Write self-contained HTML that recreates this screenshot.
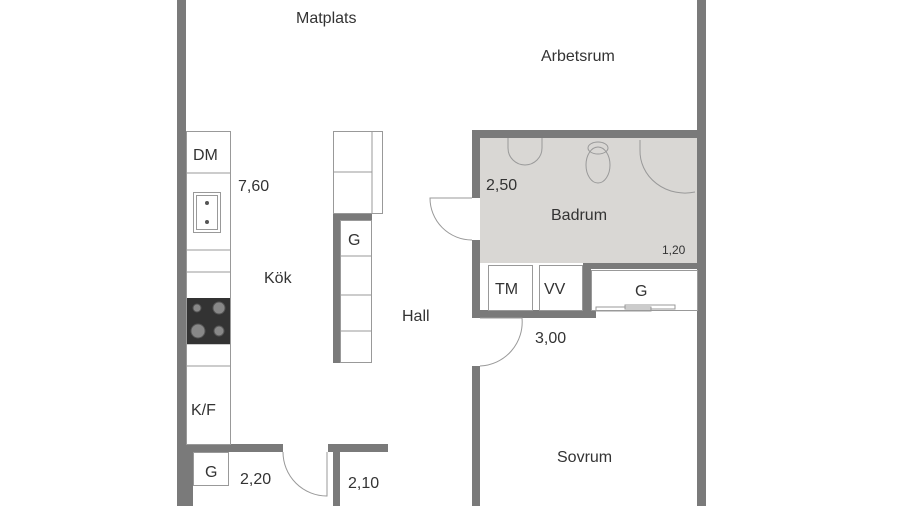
<!DOCTYPE html>
<html><head><style>body{margin:0;background:#fff}svg{display:block}text{font-family:"Liberation Sans",sans-serif;fill:#333}</style></head><body>
<svg width="900" height="506" viewBox="0 0 900 506" xmlns="http://www.w3.org/2000/svg">
<rect x="0" y="0" width="900" height="506" fill="#fff"/>
<!-- bath fill -->
<rect x="480" y="138" width="217" height="125" fill="#d9d7d4"/>
<g fill="#7a7a7a">
<rect x="177" y="0" width="9" height="506"/>
<rect x="697" y="0" width="9" height="506"/>
<rect x="472" y="130" width="234" height="8"/>
<rect x="472" y="130" width="8" height="68"/>
<rect x="472" y="240" width="8" height="78"/>
<rect x="472" y="310" width="124" height="8"/>
<rect x="583" y="263" width="8" height="55"/>
<rect x="583" y="263" width="114" height="6"/>
<rect x="472" y="366" width="8" height="140"/>
<rect x="177" y="444" width="106" height="8"/>
<rect x="186" y="452" width="7" height="54"/>
<rect x="328" y="444" width="60" height="8"/>
<rect x="333" y="444" width="7" height="62"/>
<rect x="333" y="213" width="7" height="150"/>
<rect x="333" y="213" width="39" height="7"/>
</g>
<g fill="none" stroke="#999" stroke-width="1">
<!-- kitchen counter -->
<rect x="186.5" y="131.5" width="44" height="313"/>
<line x1="186" y1="173" x2="231" y2="173"/>
<line x1="186" y1="250" x2="231" y2="250"/>
<line x1="186" y1="272" x2="231" y2="272"/>
<line x1="186" y1="344" x2="231" y2="344"/>
<line x1="186" y1="366" x2="231" y2="366"/>
<rect x="193.5" y="192.5" width="27" height="40"/>
<rect x="196.5" y="195.5" width="21" height="34"/>
<!-- island -->
<rect x="333.5" y="131.5" width="49" height="82"/>
<line x1="372" y1="131" x2="372" y2="213"/>
<line x1="333" y1="172" x2="372" y2="172"/>
<rect x="340.5" y="220.5" width="31" height="142"/>
<line x1="340" y1="256" x2="372" y2="256"/>
<line x1="340" y1="295" x2="372" y2="295"/>
<line x1="340" y1="331" x2="372" y2="331"/>
<rect x="193.5" y="452.5" width="35" height="33"/>
<!-- bath cabinets -->
<rect x="488.5" y="265.5" width="44" height="45"/>
<rect x="539.5" y="265.5" width="43" height="45"/>
<rect x="591.5" y="270.5" width="106" height="40"/>
<!-- doors -->
<path d="M472 198 H430 A42 42 0 0 0 472 240"/>
<path d="M283 452 L283 452 A44 44 0 0 0 327 496 V452"/>
<path d="M480 318 H522 A44 44 0 0 1 480 366"/>
<!-- fixtures -->
<path d="M508 138 v10 a17 17 0 0 0 34 0 v-10"/>
<ellipse cx="598" cy="165" rx="12" ry="18"/>
<ellipse cx="598" cy="148" rx="10" ry="6"/>
<path d="M640 140 v10 a45 42 0 0 0 55 42"/>
<rect x="596" y="307" width="55" height="4"/>
<rect x="625" y="305" width="50" height="4"/>
</g>
<rect x="187" y="298" width="43" height="46" fill="#333"/>
<g fill="#888" stroke="#555"><circle cx="197" cy="308" r="4"/><circle cx="219" cy="308" r="6"/><circle cx="198" cy="331" r="7"/><circle cx="219" cy="331" r="5"/></g>
<circle cx="207" cy="203" r="2" fill="#555"/><circle cx="207" cy="222" r="2" fill="#555"/>
<g font-size="16">
<text x="296" y="23">Matplats</text>
<text x="541" y="61">Arbetsrum</text>
<text x="193" y="160">DM</text>
<text x="238" y="191">7,60</text>
<text x="264" y="283">Kök</text>
<text x="348" y="245">G</text>
<text x="402" y="321">Hall</text>
<text x="191" y="415">K/F</text>
<text x="205" y="477">G</text>
<text x="240" y="484">2,20</text>
<text x="348" y="488">2,10</text>
<text x="486" y="190">2,50</text>
<text x="551" y="220">Badrum</text>
<text x="495" y="294">TM</text>
<text x="544" y="294">VV</text>
<text x="635" y="296">G</text>
<text x="535" y="343">3,00</text>
<text x="557" y="462">Sovrum</text>
<text x="662" y="254" font-size="12">1,20</text>
</g>
</svg>
</body></html>
